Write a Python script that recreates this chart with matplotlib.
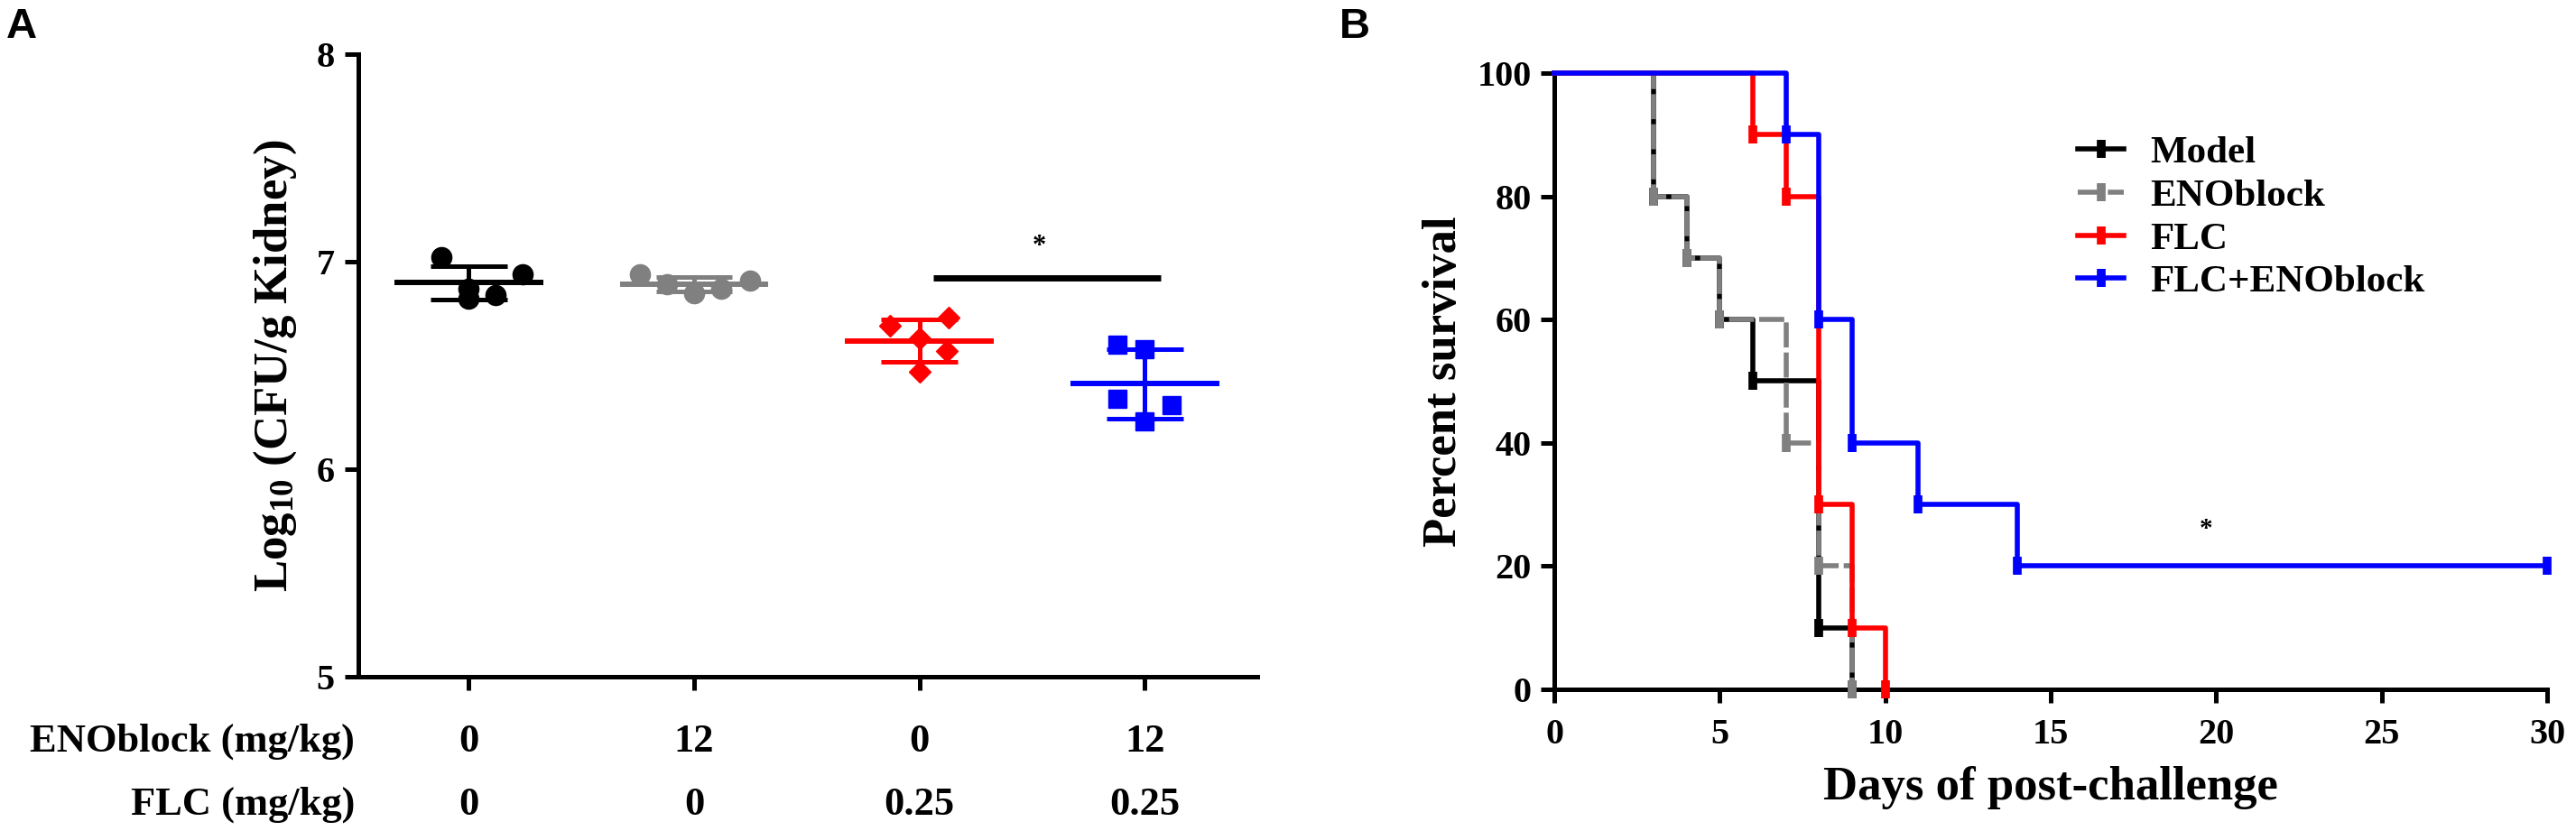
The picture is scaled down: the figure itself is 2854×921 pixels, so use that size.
import numpy as np
import matplotlib
matplotlib.use("Agg")
import matplotlib.pyplot as plt
import matplotlib.transforms as mtransforms

# ---- panel A: kidney fungal burden ----
groups = ["Model", "ENOblock", "FLC", "FLC+ENOblock"]
enoblock_dose = ["0", "12", "0", "12"]
flc_dose = ["0", "0", "0.25", "0.25"]
cfu_model = [7.02, 6.87, 6.82, 6.84, 6.94]
cfu_enoblock = [6.94, 6.89, 6.85, 6.87, 6.91]
cfu_flc = [6.69, 6.73, 6.63, 6.57, 6.47]
cfu_combo = [6.60, 6.58, 6.34, 6.31, 6.23]
sig_a = (2.06, 3.07, 6.92)   # bar from group 2 to 3 at this height
star_a = (2.53, 7.07)

# ---- panel B: survival ----
days_model = [0, 3, 4, 5, 6, 8, 9]
surv_model = [100, 80, 70, 60, 50, 10, 0]
days_enoblock = [0, 3, 4, 5, 7, 8, 9]
surv_enoblock = [100, 80, 70, 60, 40, 20, 0]
days_flc = [0, 6, 7, 8, 9, 10]
surv_flc = [100, 90, 80, 30, 10, 0]
days_combo = [0, 7, 8, 9, 11, 14, 30]
surv_combo = [100, 90, 60, 40, 30, 20, 20]
star_b = (19.7, 26)

colors = ["black", "#808080", "#ff0000", "#0000ff"]

plt.rcParams["font.family"] = ["Liberation Serif", "DejaVu Serif"]
plt.rcParams["font.weight"] = "bold"
plt.rcParams["axes.labelweight"] = "bold"
plt.rcParams["mathtext.default"] = "regular"

W, H = 2854, 921
fig = plt.figure(figsize=(W / 100, H / 100), dpi=100)


def px_box(left, top, right, bottom):
    return [left / W, 1 - bottom / H, (right - left) / W, (bottom - top) / H]


def style_axes(ax):
    for s in ["top", "right"]:
        ax.spines[s].set_visible(False)
    for s in ["left", "bottom"]:
        ax.spines[s].set_linewidth(3.6)
    ax.tick_params(width=3.6, length=11, labelsize=29)


# ------------- A -------------
axA = fig.add_axes(px_box(397, 60, 1393, 750))
style_axes(axA)
data_a = [cfu_model, cfu_enoblock, cfu_flc, cfu_combo]
markers_a = ["o", "o", "D", "s"]
msize_a = [16, 16, 12, 15]
offsets = [[-0.12, 0.0, 0.0, 0.12, 0.24],
           [-0.24, -0.12, 0.0, 0.12, 0.25],
           [-0.13, 0.13, 0.0, 0.12, 0.0],
           [-0.12, 0.0, -0.12, 0.12, 0.0]]
for i, vals in enumerate(data_a):
    vals = np.array(vals)
    xs = i + np.array(offsets[i])
    axA.plot(xs, vals, ls="none", marker=markers_a[i], ms=msize_a[i],
             color=colors[i], mec=colors[i], zorder=3)
    m = vals.mean()
    sd = vals.std(ddof=1)
    axA.hlines(m, i - 0.33, i + 0.33, color=colors[i], lw=4.3, zorder=4)
    axA.vlines(i, m - sd, m + sd, color=colors[i], lw=3.6, zorder=4)
    axA.hlines([m - sd, m + sd], i - 0.17, i + 0.17, color=colors[i], lw=3.6, zorder=4)

axA.hlines(sig_a[2], sig_a[0], sig_a[1], color="black", lw=5)
axA.text(star_a[0], star_a[1], "*", ha="center", va="center", fontsize=22)

axA.set_xlim(-0.49, 3.5)
axA.set_ylim(5, 8)
axA.set_yticks([5, 6, 7, 8])
axA.set_xticks(range(4))
axA.set_xticklabels([])
axA.tick_params(axis="y", pad=8)
axA.set_ylabel("Log$_{10}$ (CFU/g Kidney)", fontsize=38, va="center")
axA.yaxis.set_label_coords(-0.092, 0.5)

trans = mtransforms.blended_transform_factory(axA.transData, fig.transFigure)
for i in range(4):
    axA.text(i, 1 - 822 / H, enoblock_dose[i], transform=trans,
             ha="center", va="center", fontsize=32)
    axA.text(i, 1 - 892 / H, flc_dose[i], transform=trans,
             ha="center", va="center", fontsize=32)
fig.text(393 / W, 1 - 822 / H, "ENOblock (mg/kg)", ha="right", va="center", fontsize=32)
fig.text(393 / W, 1 - 892 / H, "FLC (mg/kg)", ha="right", va="center", fontsize=32)

# ------------- B -------------
axB = fig.add_axes(px_box(1722, 81, 2822, 764))
style_axes(axB)
series_b = [(days_model, surv_model, "-"),
            (days_enoblock, surv_enoblock, (0, (5, 1))),
            (days_flc, surv_flc, "-"),
            (days_combo, surv_combo, "-")]
for i, (d, s, ls) in enumerate(series_b):
    axB.plot(d, s, drawstyle="steps-post", ls=ls, color=colors[i], lw=4,
             marker="|", ms=15, mew=7, markevery=list(range(1, len(d))),
             label=groups[i], clip_on=False, zorder=2 + i)

axB.text(star_b[0], star_b[1], "*", ha="center", va="center", fontsize=21)
axB.set_xlim(0, 30)
axB.set_ylim(0, 100)
axB.set_xticks(range(0, 31, 5))
axB.set_yticks(range(0, 101, 20))
axB.tick_params(axis="x", pad=12)
axB.tick_params(axis="y", pad=7)
axB.set_ylabel("Percent survival", fontsize=38, va="center")
axB.yaxis.set_label_coords(-0.111, 0.5)
axB.set_xlabel("Days of post-challenge", fontsize=38, va="center")
axB.xaxis.set_label_coords(0.5, -0.16)

axB.legend(loc="upper left", bbox_to_anchor=(2302 / W, 1 - 150 / H),
           bbox_transform=fig.transFigure, frameon=False, fontsize=31,
           handlelength=1.19, handletextpad=0.67, labelspacing=0.2,
           borderpad=0, borderaxespad=0, numpoints=1)

fig.text(7 / W, 1 - 8 / H, "A", family="Liberation Sans", weight="bold",
         fontsize=34, va="top", ha="left")
fig.text(1484 / W, 1 - 8 / H, "B", family="Liberation Sans", weight="bold",
         fontsize=34, va="top", ha="left")

fig.savefig("out.png", dpi=100)
